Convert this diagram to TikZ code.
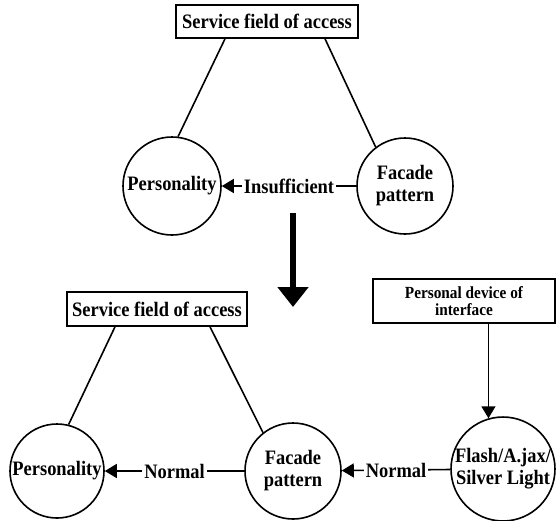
\documentclass[tikz,border=0pt]{standalone}
\usepackage{fontspec}
\setmainfont{Liberation Serif}
\newfontfamily\diagfont[FakeStretch=0.9]{Liberation Serif}
\usetikzlibrary{arrows.meta}
\begin{document}
\begin{tikzpicture}[x=1pt,y=-1pt,
  every node/.style={font=\diagfont\bfseries\fontsize{20.5}{22}\selectfont},
  wire/.style={line width=1.6pt},
  flow/.style={wire,-{Triangle[length=12pt,width=14pt]}},
  boxnode/.style={draw,line width=1.6pt,rectangle,inner sep=0pt,align=center},
  roundnode/.style={draw,line width=1.6pt,circle,inner sep=0pt,minimum size=96pt,align=center},
  tag/.style={fill=white,inner sep=2pt}]
\useasboundingbox (0,0) rectangle (556,520);

% upper group
\node[boxnode,minimum width=182pt,minimum height=33pt] (sa) at (267,21.5) {Service field of access};
\node[roundnode,minimum size=98pt] (pa) at (172,186) {Personality};
\node[roundnode] (fa) at (405,186) {Facade\\pattern};
\draw[wire] ([xshift=-42pt]sa.south) -- (pa.83);
\draw[wire] ([xshift=58pt]sa.south) -- (fa.127);
\draw[flow] (fa) -- node[tag] {Insufficient} (pa);

% transition arrow
\coordinate (ts) at (293,213);
\coordinate (te) at (293,307);
\draw[line width=6pt,-{Triangle[length=20pt,width=30pt]}] (ts) -- (te);

% lower group
\node[boxnode,minimum width=180pt,minimum height=34pt] (sb) at (157,309) {Service field of access};
\node[boxnode,minimum width=182pt,minimum height=44pt,font=\diagfont\bfseries\fontsize{17}{17}\selectfont] (pd) at (464,301) {Personal device of\\interface};
\node[roundnode,minimum size=94pt] (pb) at (57,471) {Personality};
\node[roundnode] (fb) at (293,471) {Facade\\pattern};
\node[roundnode,minimum size=100pt] (fl) at (503,469) {Flash/A.jax/\\Silver Light};
\draw[wire] ([xshift=-42pt]sb.south) -- (pb.76);
\draw[wire] ([xshift=53pt]sb.south) -- (fb.128);
\draw[flow] (fl.106 |- pd.south) -- (fl.106);
\draw[flow] (fb) -- node[tag] {Normal} (pb);
\draw[flow] (fl) -- node[tag] {Normal} (fb);
\end{tikzpicture}
\end{document}
